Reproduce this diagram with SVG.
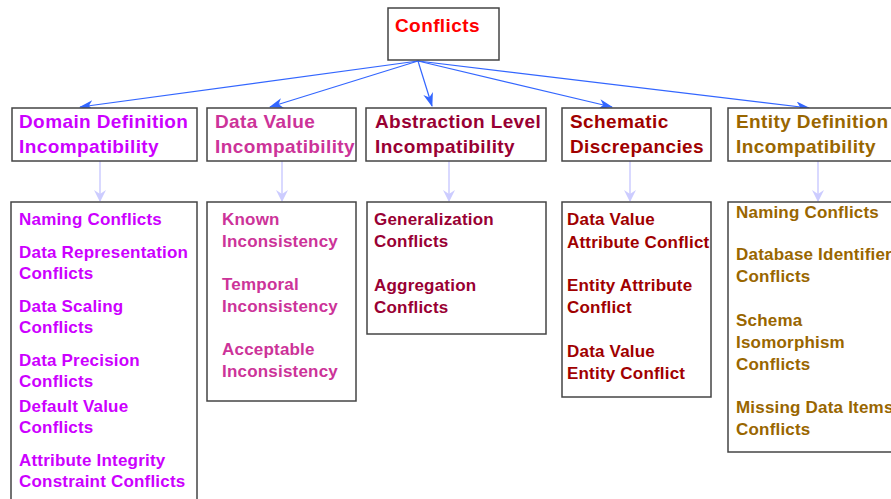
<svg xmlns="http://www.w3.org/2000/svg" width="891" height="499" viewBox="0 0 891 499">
<defs>
<marker id="ah" markerWidth="14" markerHeight="10" refX="13" refY="5" orient="auto" markerUnits="userSpaceOnUse">
<path d="M0,0 L14,5 L0,10 L4,5 Z" fill="#3366ff"/>
</marker>
<marker id="ah2" markerWidth="12" markerHeight="12" refX="11" refY="6" orient="auto" markerUnits="userSpaceOnUse">
<path d="M0,0 L12,6 L0,12 L4,6 Z" fill="#ccccff"/>
</marker>
</defs>
<style>
rect{fill:#fff;stroke:#444;stroke-width:1.5}
text{font-family:"Liberation Sans",Arial,sans-serif;font-weight:bold}
.h{font-size:19px;letter-spacing:0.4px}
.s{font-size:17px;letter-spacing:0.2px}
.c0{fill:#ff0000}
.c1{fill:#cc00ff}
.c2{fill:#cc3399}
.c3{fill:#990033}
.c4{fill:#a00000}
.c5{fill:#996600}
.main{stroke:#3366ff;stroke-width:1.2;fill:none}
.sub{stroke:#ccccff;stroke-width:1.5;fill:none}
</style>
<g id="connectors">
<line class="main" x1="418" y1="61" x2="80" y2="107" marker-end="url(#ah)"/>
<line class="main" x1="418" y1="61" x2="270" y2="107" marker-end="url(#ah)"/>
<line class="main" x1="418" y1="61" x2="432" y2="106" marker-end="url(#ah)"/>
<line class="main" x1="418" y1="61" x2="612" y2="107" marker-end="url(#ah)"/>
<line class="main" x1="418" y1="61" x2="809" y2="108" marker-end="url(#ah)"/>
<line class="sub" x1="100" y1="161" x2="100" y2="201" marker-end="url(#ah2)"/>
<line class="sub" x1="282" y1="161" x2="282" y2="201" marker-end="url(#ah2)"/>
<line class="sub" x1="449" y1="161" x2="449" y2="201" marker-end="url(#ah2)"/>
<line class="sub" x1="630" y1="161" x2="630" y2="201" marker-end="url(#ah2)"/>
<line class="sub" x1="818" y1="161" x2="818" y2="201" marker-end="url(#ah2)"/>
</g>
<g id="root">
<rect x="388" y="8" width="111" height="52"/>
<text class="h c0" x="395" y="32">Conflicts</text>
</g>
<g id="domain">
<rect x="12" y="108" width="185" height="53"/>
<text class="h c1" x="19" y="128">Domain Definition</text>
<text class="h c1" x="19" y="153">Incompatibility</text>
</g>
<g id="datavalue">
<rect x="207" y="108" width="149" height="53"/>
<text class="h c2" x="215" y="128">Data Value</text>
<text class="h c2" x="215" y="153">Incompatibility</text>
</g>
<g id="abstraction">
<rect x="366" y="108" width="180" height="53"/>
<text class="h c3" x="375" y="128">Abstraction Level</text>
<text class="h c3" x="375" y="153">Incompatibility</text>
</g>
<g id="schematic">
<rect x="562" y="108" width="149" height="53"/>
<text class="h c4" x="570" y="128">Schematic</text>
<text class="h c4" x="570" y="153">Discrepancies</text>
</g>
<g id="entity">
<rect x="728" y="108" width="180" height="53"/>
<text class="h c5" x="736" y="128">Entity Definition</text>
<text class="h c5" x="736" y="153">Incompatibility</text>
</g>
<g id="domain-list">
<rect x="11" y="202" width="186" height="310"/>
<text class="s c1" x="19" y="225">Naming Conflicts</text>
<text class="s c1" x="19" y="258">Data Representation</text>
<text class="s c1" x="19" y="279">Conflicts</text>
<text class="s c1" x="19" y="312">Data Scaling</text>
<text class="s c1" x="19" y="333">Conflicts</text>
<text class="s c1" x="19" y="366">Data Precision</text>
<text class="s c1" x="19" y="387">Conflicts</text>
<text class="s c1" x="19" y="412">Default Value</text>
<text class="s c1" x="19" y="433">Conflicts</text>
<text class="s c1" x="19" y="466">Attribute Integrity</text>
<text class="s c1" x="19" y="487">Constraint Conflicts</text>
</g>
<g id="datavalue-list">
<rect x="207" y="202" width="149" height="199"/>
<text class="s c2" x="222" y="225">Known</text>
<text class="s c2" x="222" y="247">Inconsistency</text>
<text class="s c2" x="222" y="290">Temporal</text>
<text class="s c2" x="222" y="312">Inconsistency</text>
<text class="s c2" x="222" y="355">Acceptable</text>
<text class="s c2" x="222" y="377">Inconsistency</text>
</g>
<g id="abstraction-list">
<rect x="367" y="202" width="179" height="132"/>
<text class="s c3" x="374" y="225">Generalization</text>
<text class="s c3" x="374" y="247">Conflicts</text>
<text class="s c3" x="374" y="291">Aggregation</text>
<text class="s c3" x="374" y="313">Conflicts</text>
</g>
<g id="schematic-list">
<rect x="562" y="202" width="149" height="195"/>
<text class="s c4" x="567" y="225">Data Value</text>
<text class="s c4" x="567" y="248">Attribute Conflict</text>
<text class="s c4" x="567" y="291">Entity Attribute</text>
<text class="s c4" x="567" y="313">Conflict</text>
<text class="s c4" x="567" y="357">Data Value</text>
<text class="s c4" x="567" y="379">Entity Conflict</text>
</g>
<g id="entity-list">
<rect x="728" y="202" width="180" height="250"/>
<text class="s c5" x="736" y="218">Naming Conflicts</text>
<text class="s c5" x="736" y="260">Database Identifier</text>
<text class="s c5" x="736" y="282">Conflicts</text>
<text class="s c5" x="736" y="326">Schema</text>
<text class="s c5" x="736" y="348">Isomorphism</text>
<text class="s c5" x="736" y="370">Conflicts</text>
<text class="s c5" x="736" y="413">Missing Data Items</text>
<text class="s c5" x="736" y="435">Conflicts</text>
</g>
</svg>
